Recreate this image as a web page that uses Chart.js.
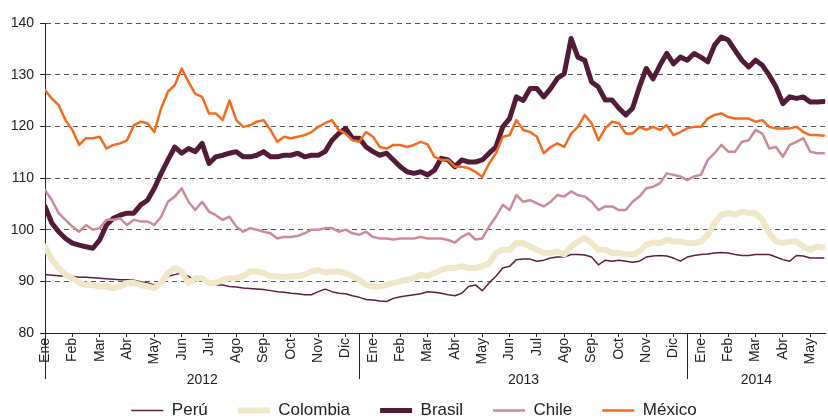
<!DOCTYPE html>
<html>
<head>
<meta charset="utf-8">
<script src="https://cdn.jsdelivr.net/npm/chart.js@4"></script>
<style>
  html, body { margin: 0; padding: 0; background: #fff; overflow: hidden; }
  #wrap { width: 828px; height: 420px; }
</style>
</head>
<body>
<div id="wrap"><canvas id="c" width="828" height="420"></canvas></div>
<script>
// Month positions (0 = Ene 2012), quarter-month sampling
const xMonths = [0,0.25,0.5,0.75,1,1.25,1.5,1.75,2,2.25,2.5,2.75,3,3.25,3.5,3.75,4,4.25,4.5,4.75,5,5.25,5.5,5.75,6,6.25,6.5,6.75,7,7.25,7.5,7.75,8,8.25,8.5,8.75,9,9.25,9.5,9.75,10,10.25,10.5,10.75,11,11.25,11.5,11.75,12,12.25,12.5,12.75,13,13.25,13.5,13.75,14,14.25,14.5,14.75,15,15.25,15.5,15.75,16,16.25,16.5,16.75,17,17.25,17.5,17.75,18,18.25,18.5,18.75,19,19.25,19.5,19.75,20,20.25,20.5,20.75,21,21.25,21.5,21.75,22,22.25,22.5,22.75,23,23.25,23.5,23.75,24,24.25,24.5,24.75,25,25.25,25.5,25.75,26,26.25,26.5,26.75,27,27.25,27.5,27.75,28,28.25,28.5];
const monthNames = ['Ene','Feb','Mar','Abr','May','Jun','Jul','Ago','Sep','Oct','Nov','Dic'];
const years = ['2012','2013','2014'];
const yTicks = [80,90,100,110,120,130,140];

const peru = [91.3,91.2,91.1,91,91,90.8,90.8,90.7,90.6,90.5,
  90.4,90.3,90.3,90.2,89.9,89.7,89.3,90,91,91.3,
  91.6,91,90,90.6,89.7,89.3,89.3,89,88.9,88.7,
  88.6,88.5,88.4,88.2,88,87.9,87.7,87.6,87.4,87.4,
  88,88.5,88,87.7,87.6,87.2,86.9,86.5,86.4,86.2,
  86.1,86.7,87,87.2,87.4,87.6,88,87.9,87.7,87.4,
  87.2,87.7,89,89.3,88.2,89.7,91,92.6,92.9,94.2,
  94.3,94.3,93.9,94.1,94.5,94.7,94.7,95.2,95.2,95.1,
  94.7,93.2,94.1,93.9,94.1,93.9,93.7,93.9,94.7,94.9,
  95,94.9,94.5,93.9,94.7,95,95.2,95.3,95.5,95.6,
  95.5,95.2,95,95,95.2,95.2,95.2,94.7,94.2,93.9,
  95,94.9,94.5,94.5,94.5];
const colombia = [96.7,94.2,92.6,91.3,90.6,89.7,89.3,89.3,89,89,
  88.7,89,89.7,89.7,89.3,89,88.7,89.7,91.6,92.6,
  91.9,89.7,90.6,90.6,89.7,89.7,90.3,90.6,90.6,91,
  91.9,91.9,91.6,91,91,90.8,91,91,91.3,91.9,
  92.2,91.7,91.9,91.9,91.6,91,90.3,89.3,89,89,
  89.3,89.7,90,90.3,90.6,91.3,91,91.6,92.2,92.6,
  92.6,92.9,92.6,92.6,92.9,93.5,95.5,96.1,96.1,97.4,
  97.4,96.7,96.1,95.5,95.5,95.8,95.2,96.7,97.7,98.4,
  97.4,96.1,96.1,95.5,95.5,95.2,95.2,95.8,97.1,97.5,
  97.4,98,97.7,97.7,97.4,97.4,97.7,99,101.3,102.9,
  103.2,102.9,103.5,103.2,103.2,101.9,99.3,97.7,97.4,97.7,
  97.7,96.7,96.1,96.7,96.5];
const brasil = [104.5,101.3,99.6,98.3,97.4,97,96.7,96.4,98,100.9,
  102.2,102.8,103.2,103.2,104.8,105.7,108,110.9,113.5,116,
  114.8,115.7,115.1,116.7,112.8,114.1,114.4,114.8,115.1,114.1,
  114.1,114.4,115.1,114.1,114.1,114.4,114.4,114.8,114.1,114.4,
  114.4,115.1,117.3,118.6,119.6,117.7,117.7,116,115.1,114.4,
  114.8,113.5,112.2,111.2,110.9,111.2,110.6,111.5,113.8,113.5,
  112.2,113.5,113.1,113.1,113.5,114.8,116,119.9,121.5,125.7,
  125,127.3,127.3,125.7,127.3,129.3,130.2,137,133.4,132.8,
  128.6,127.6,125.1,125.1,123.5,122.2,123.5,127.6,131.2,129.2,
  131.8,134.1,132.1,133.4,132.8,134.1,133.4,132.5,135.7,137.3,
  136.7,134.7,132.8,131.5,132.8,131.8,129.9,127.6,124.4,125.7,
  125.4,125.7,124.7,124.7,124.8];
const chile = [107.7,105.7,103.2,101.9,100.6,99.6,100.9,100,100.3,101.9,
  101.9,102.2,100.9,101.9,101.6,101.6,100.9,102.5,105.4,106.4,
  108,105.4,103.8,105.4,103.5,102.8,101.9,102.5,100.6,99.6,
  100.3,100,99.6,99.3,98.3,98.6,98.6,98.8,99.3,100,
  100,100.3,100.3,99.6,100,99.3,99,99.6,98.6,98.3,
  98.3,98.1,98.3,98.3,98.3,98.6,98.3,98.3,98.3,98,
  97.5,98.6,99.3,98.1,98.3,100.6,102.5,104.8,103.8,106.7,
  105.4,105.7,105.1,104.5,105.4,106.7,106.4,107.4,106.7,106.4,
  105.4,103.8,104.5,104.5,103.8,103.8,105.4,106.4,108,108.3,
  109,110.9,110.6,110.3,109.6,110.3,110.6,113.5,114.8,116.4,
  115.1,115.1,117,117.3,119.3,118.6,115.7,116,114.1,116.4,
  117,117.7,115.1,114.8,114.8];
const mexico = [127,125.4,124.1,121.2,119.3,116.4,117.7,117.7,118,115.7,
  116.4,116.7,117.3,120.2,120.9,120.6,118.9,123.5,126.7,128,
  131.2,128.6,126.3,125.7,122.5,122.5,121.2,125,121.2,119.9,
  120.2,120.9,121.2,119.3,117,118,117.7,118,118.3,118.9,
  119.9,120.6,121.2,119.3,118.6,117.3,117,118.9,118,116,
  115.7,116.4,116.4,116,116.4,117,116.5,114.1,113.5,113.5,
  112.2,112.2,111.9,111.2,110.2,112.8,114.8,118,118.3,121.2,
  119.3,118.9,118,114.8,116,116.7,116,118.6,119.9,122.2,
  120.6,117.3,119.6,120.9,120.6,118.6,118.6,119.9,119.3,119.9,
  119.3,120.2,118.3,118.9,119.6,119.9,119.9,121.5,122.2,122.5,
  121.8,121.5,121.5,121.5,120.9,121.2,119.9,119.6,119.6,119.6,
  119.9,118.9,118.3,118.3,118.2];

const FONT = "'Liberation Sans', Arial, sans-serif";
const INK = '#222222';

function pts(arr) { return arr.map((v, i) => ({ x: xMonths[i], y: v })); }

const yearPlugin = {
  id: 'yearPlugin',
  afterDraw(chart) {
    const xs = chart.scales.x;
    const ca = chart.chartArea;
    const ctx = chart.ctx;
    ctx.save();
    ctx.strokeStyle = INK;
    ctx.lineWidth = 1;
    const lineBottom = ca.bottom + 46;
    ctx.beginPath();
    ctx.moveTo(Math.round(ca.left) + 0.5, ca.bottom);
    ctx.lineTo(Math.round(ca.left) + 0.5, lineBottom);
    ctx.stroke();
    const bounds = [ca.left];
    for (let k = 1; k < years.length; k++) {
      const px = Math.round(xs.getPixelForValue(k * 12 - 0.5)) + 0.5;
      bounds.push(px);
      ctx.beginPath();
      ctx.moveTo(px, ca.bottom);
      ctx.lineTo(px, lineBottom);
      ctx.stroke();
    }
    bounds.push(ca.right);
    ctx.fillStyle = INK;
    ctx.font = '14px ' + FONT;
    ctx.textAlign = 'center';
    ctx.textBaseline = 'middle';
    for (let k = 0; k < years.length; k++) {
      ctx.fillText(years[k], (bounds[k] + bounds[k + 1]) / 2, ca.bottom + 47);
    }
    ctx.restore();
  }
};

function ds(label, data, color, width, order) {
  return {
    label, data: pts(data), borderColor: color, backgroundColor: color,
    borderWidth: width, pointRadius: 0, tension: 0, order,
    borderJoinStyle: 'round', borderCapStyle: 'round'
  };
}

new Chart(document.getElementById('c'), {
  type: 'line',
  data: {
    datasets: [
      ds('Perú', peru, '#5c1f3d', 1.5, 4),
      ds('Colombia', colombia, '#efe7c8', 6, 3),
      ds('Brasil', brasil, '#521c39', 5, 2),
      ds('Chile', chile, '#cb8a95', 2.5, 1),
      ds('México', mexico, '#f36b21', 2.5, 0)
    ]
  },
  options: {
    responsive: false,
    animation: false,
    devicePixelRatio: 1,
    layout: { padding: { top: 23, left: 0, right: 0, bottom: -9 } },
    plugins: {
      tooltip: { enabled: false },
      legend: {
        position: 'bottom',
        labels: {
          usePointStyle: true,
          pointStyle: 'line',
          pointStyleWidth: 32,
          padding: 30,
          color: INK,
          font: { family: FONT, size: 17 },
          sort: (a, b) => a.datasetIndex - b.datasetIndex
        }
      }
    },
    scales: {
      x: {
        type: 'linear',
        min: 0,
        max: 28.55,
        afterBuildTicks(scale) {
          scale.ticks = xMonths.filter(v => Number.isInteger(v)).map(v => ({ value: v }));
        },
        afterFit(scale) { scale.height = 39; },
        ticks: {
          autoSkip: false,
          minRotation: 90,
          maxRotation: 90,
          padding: 1,
          color: INK,
          font: { family: FONT, size: 14 },
          callback: (v) => monthNames[((v % 12) + 12) % 12]
        },
        grid: { drawOnChartArea: false, drawTicks: true, tickLength: 4, tickColor: INK, color: INK },
        border: { display: true, color: INK, width: 1 }
      },
      y: {
        min: 80,
        max: 140,
        afterBuildTicks(scale) { scale.ticks = yTicks.map(v => ({ value: v })); },
        afterFit(scale) { scale.width = 45; },
        ticks: {
          padding: 6,
          color: INK,
          font: { family: FONT, size: 14 }
        },
        grid: {
          color: (c) => (c.tick && c.tick.value === 80) ? 'rgba(0,0,0,0)' : '#555555',
          lineWidth: 1,
          tickLength: 5,
          tickColor: INK,
          tickBorderDash: [],
          drawTicks: true
        },
        border: { display: true, color: INK, width: 1, dash: [5, 4] }
      }
    }
  },
  plugins: [yearPlugin]
});
</script>
</body>
</html>
